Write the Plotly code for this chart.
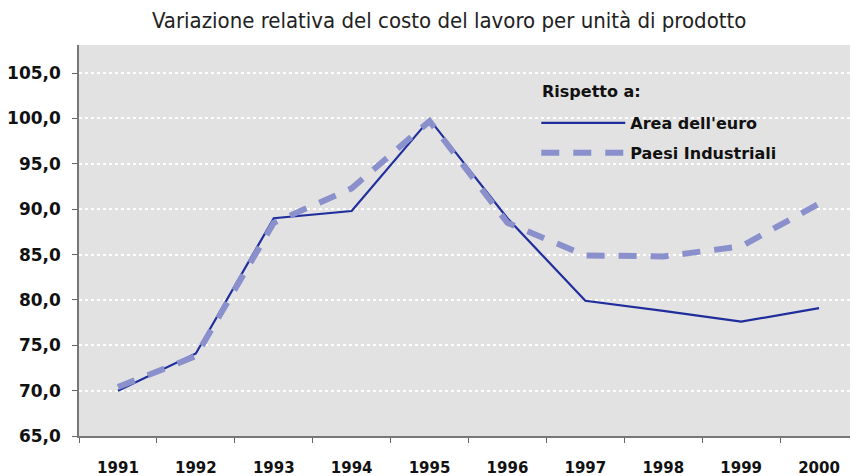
import plotly.graph_objects as go

years = ["1991", "1992", "1993", "1994", "1995", "1996", "1997", "1998", "1999", "2000"]
area_euro = [70.0, 74.1, 89.0, 89.8, 99.9, 89.0, 79.9, 78.8, 77.6, 79.1]
paesi_ind = [70.4, 73.8, 88.5, 92.3, 99.7, 88.5, 84.9, 84.8, 85.9, 90.6]
y_ticks = [65, 70, 75, 80, 85, 90, 95, 100, 105]

fig = go.Figure()
fig.add_trace(go.Scatter(
    x=years, y=area_euro, mode="lines", name="Area dell'euro", legendgroup="a",
    line=dict(color="#1F2E9C", width=2.2),
))
fig.add_trace(go.Scatter(
    x=years, y=paesi_ind, mode="lines", name="Paesi Industriali", legendgroup="b",
    line=dict(color="#8A90CC", width=6, dash="18px,14px"),
))

bold = "DejaVu Sans, Verdana, sans-serif"

fig.add_annotation(
    text="Rispetto a:", xref="paper", yref="paper", x=0.592, y=0.880,
    xanchor="left", yanchor="middle", showarrow=False,
    font=dict(family=bold, size=16, color="#111111", weight="bold"),
)

fig.update_layout(
    width=850, height=468,
    margin=dict(l=71, r=0, t=37, b=40),
    paper_bgcolor="white",
    plot_bgcolor="#E2E2E2",
    separators=",.",
    title=dict(
        text="Variazione relativa del costo del lavoro per unità di prodotto",
        x=0.519, xanchor="center", y=0.974, yanchor="middle",
        font=dict(family="DejaVu Sans Condensed, Liberation Sans Narrow, Open Sans, sans-serif", size=22, color="#222222"),
    ),
    xaxis=dict(
        type="category", tickson="boundaries", ticks="outside", ticklen=5,
        tickcolor="#666666", showline=True, linecolor="#777777", linewidth=1.5,
        showgrid=False, range=[-0.5, 9.5], automargin=False,
        tickfont=dict(family=bold, size=15, color="#111111", weight="bold"),
        ticklabelstandoff=17,
    ),
    yaxis=dict(
        range=[65, 108.1], tickvals=y_ticks, tickformat=".1f",
        ticks="outside", ticklen=5, tickcolor="#666666",
        showline=True, linecolor="#777777", linewidth=1.5,
        gridcolor="white", griddash="dot", gridwidth=2,
        zeroline=False, automargin=False,
        tickfont=dict(family=bold, size=17, color="#111111", weight="bold"),
        ticklabelstandoff=8,
    ),
    legend=dict(
        x=0.587, y=0.844, xanchor="left", yanchor="top",
        bgcolor="rgba(0,0,0,0)", itemwidth=84, tracegroupgap=6, traceorder="grouped",
        font=dict(family=bold, size=16, color="#111111", weight="bold"),
    ),
    showlegend=True,
)

fig.write_html("out.html")
